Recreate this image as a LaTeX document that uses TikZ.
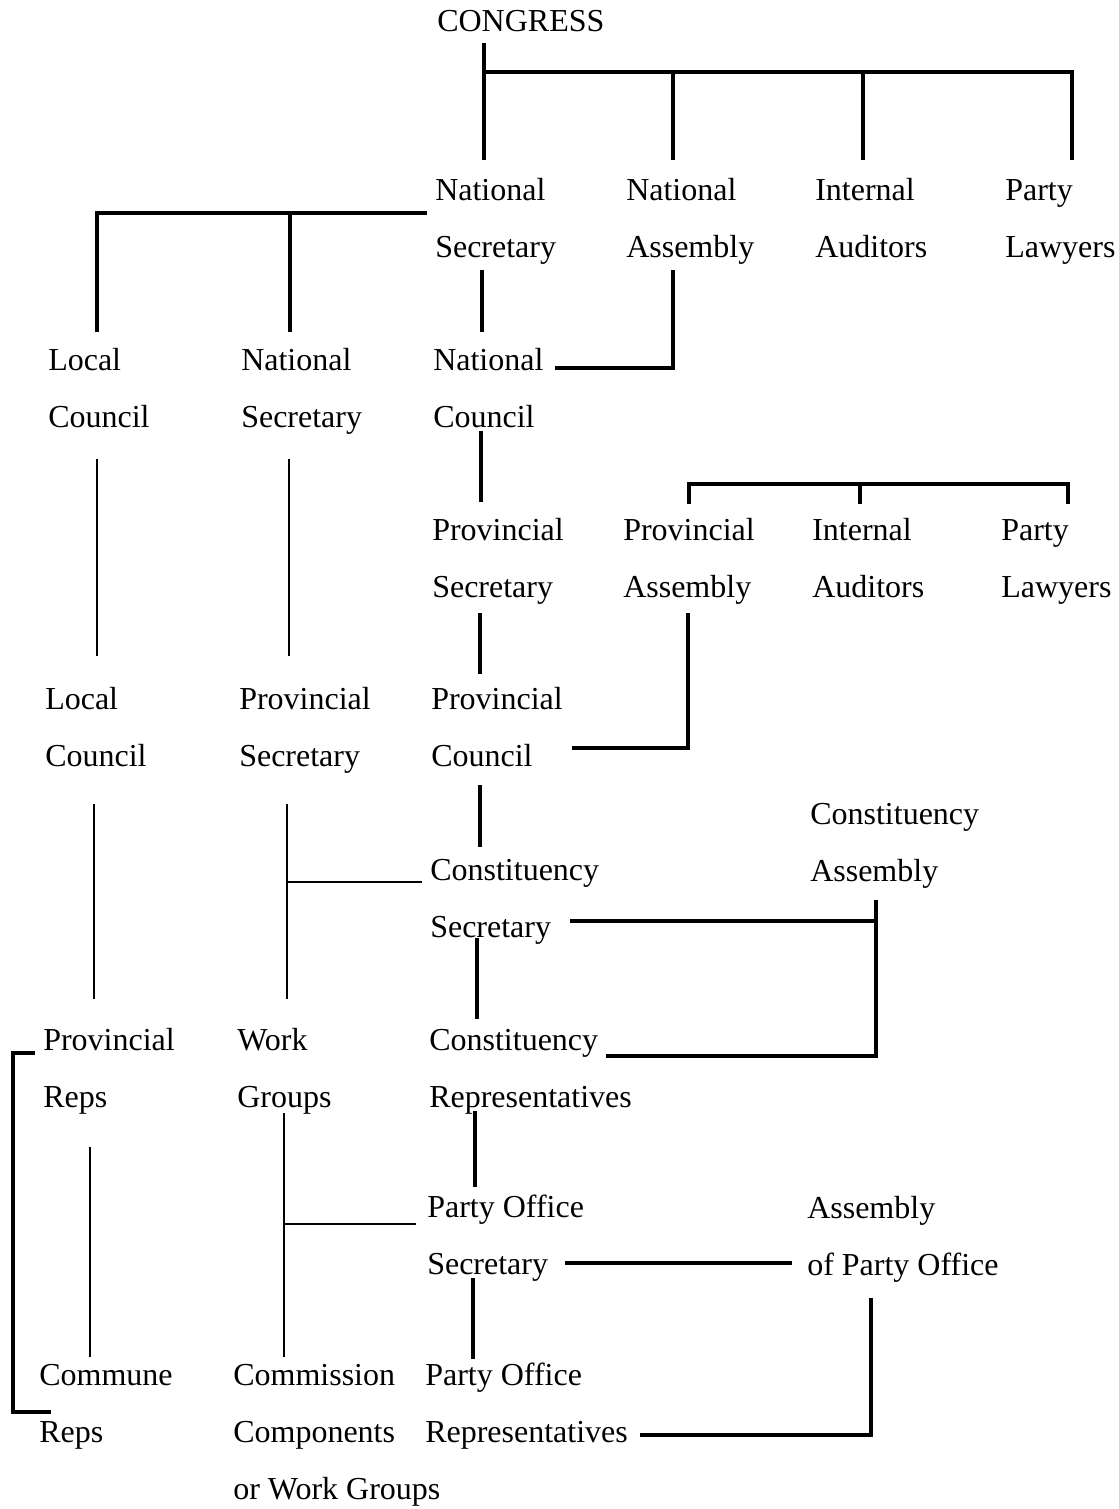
\documentclass[tikz,border=0pt]{standalone}
\usepackage{fontspec}
\setmainfont{Liberation Serif}
\begin{document}
\begin{tikzpicture}[x=0.75pt,y=-0.75pt,
  lbl/.style={font=\fontsize{24}{42.75}\selectfont, align=left, inner sep=0pt, anchor=base west},
  heavy/.style={line width=2.6pt, line cap=rect},
  light/.style={line width=1.8pt, line cap=rect}]
\useasboundingbox[fill=white] (0,0) rectangle (1118,1509);
% ---- nodes (anchored at the baseline of their last line) ----
\node[lbl] (congress) at (437,32) {CONGRESS};
\node[lbl] (nsec) at (435,257) {National\\Secretary};
\node[lbl] (nasm) at (626,257) {National\\Assembly};
\node[lbl] (naud) at (815,257) {Internal\\Auditors};
\node[lbl] (nlaw) at (1005,257) {Party\\Lawyers};
\node[lbl] (lc1) at (48,427) {Local\\Council};
\node[lbl] (nsec2) at (241,427) {National\\Secretary};
\node[lbl] (ncou) at (433,427) {National\\Council};
\node[lbl] (psec) at (432,597) {Provincial\\Secretary};
\node[lbl] (pasm) at (623,597) {Provincial\\Assembly};
\node[lbl] (paud) at (812,597) {Internal\\Auditors};
\node[lbl] (plaw) at (1001,597) {Party\\Lawyers};
\node[lbl] (lc2) at (45,766) {Local\\Council};
\node[lbl] (psec2) at (239,766) {Provincial\\Secretary};
\node[lbl] (pcou) at (431,766) {Provincial\\Council};
\node[lbl] (casm) at (810,881) {Constituency\\Assembly};
\node[lbl] (csec) at (430,937) {Constituency\\Secretary};
\node[lbl] (preps) at (43,1107) {Provincial\\Reps};
\node[lbl] (wg) at (237,1107) {Work\\Groups};
\node[lbl] (creps) at (429,1107) {Constituency\\Representatives};
\node[lbl] (posec) at (427,1274) {Party Office\\Secretary};
\node[lbl] (apo) at (807,1275) {Assembly\\of Party Office};
\node[lbl] (creps2) at (39,1442) {Commune\\Reps};
\node[lbl] (ccwg) at (233,1499) {Commission\\Components\\or Work Groups};
\node[lbl] (poreps) at (425,1442) {Party Office\\Representatives};
% ---- connector end points ----
\coordinate (c0) at (484,45);  \coordinate (c1) at (484,158);
\coordinate (h0) at (484,72);  \coordinate (h3) at (1072,72);
\coordinate (h1) at (673,72);  \coordinate (h1b) at (673,158);
\coordinate (h2) at (863,72);  \coordinate (h2b) at (863,158);
\coordinate (h3b) at (1072,158);
\coordinate (s0) at (425,213); \coordinate (s1) at (97,213); \coordinate (s1b) at (97,330);
\coordinate (s2) at (290,213); \coordinate (s2b) at (290,330);
\coordinate (v1a) at (482,272); \coordinate (v1b) at (482,330);
\coordinate (a1) at (673,272); \coordinate (a2) at (673,368); \coordinate (a3) at (557,368);
\coordinate (v2a) at (481,433); \coordinate (v2b) at (481,500);
\coordinate (p1) at (689,502); \coordinate (p2) at (689,484); \coordinate (p3) at (1068,484); \coordinate (p4) at (1068,502);
\coordinate (p5) at (860,484); \coordinate (p6) at (860,502);
\coordinate (l1a) at (97,460); \coordinate (l1b) at (97,655);
\coordinate (n1a) at (289,460); \coordinate (n1b) at (289,655);
\coordinate (v3a) at (480,615); \coordinate (v3b) at (480,672);
\coordinate (b1) at (688,615); \coordinate (b2) at (688,748); \coordinate (b3) at (574,748);
\coordinate (v4a) at (480,787); \coordinate (v4b) at (480,845);
\coordinate (l2a) at (94,805); \coordinate (l2b) at (94,998);
\coordinate (n2a) at (287,805); \coordinate (n2b) at (287,998);
\coordinate (n2c) at (287,882); \coordinate (n2d) at (421,882);
\coordinate (k1) at (572,921); \coordinate (k2) at (876,921);
\coordinate (k3) at (876,902); \coordinate (k4) at (876,1056); \coordinate (k5) at (608,1056);
\coordinate (v5a) at (477,940); \coordinate (v5b) at (477,1017);
\coordinate (l3a) at (90,1148); \coordinate (l3b) at (90,1356);
\coordinate (w1) at (284,1114); \coordinate (w2) at (284,1356);
\coordinate (w3) at (284,1224); \coordinate (w4) at (415,1224);
\coordinate (v6a) at (475,1113); \coordinate (v6b) at (475,1185);
\coordinate (q1) at (567,1263); \coordinate (q2) at (790,1263);
\coordinate (v7a) at (473,1280); \coordinate (v7b) at (473,1357);
\coordinate (r1) at (871,1300); \coordinate (r2) at (871,1435); \coordinate (r3) at (642,1435);
\coordinate (e1) at (33,1053); \coordinate (e2) at (13,1053); \coordinate (e3) at (13,1412); \coordinate (e4) at (49,1412);
% ---- connectors ----
\draw[heavy] (c0) -- (c1);
\draw[heavy] (h0) -- (h3) -- (h3b);
\draw[heavy] (h1) -- (h1b);
\draw[heavy] (h2) -- (h2b);
\draw[heavy] (s0) -- (s1) -- (s1b);
\draw[heavy] (s2) -- (s2b);
\draw[heavy] (v1a) -- (v1b);
\draw[heavy] (a1) -- (a2) -- (a3);
\draw[heavy] (v2a) -- (v2b);
\draw[heavy] (p1) -- (p2) -- (p3) -- (p4);
\draw[heavy] (p5) -- (p6);
\draw[light] (l1a) -- (l1b);
\draw[light] (n1a) -- (n1b);
\draw[heavy] (v3a) -- (v3b);
\draw[heavy] (b1) -- (b2) -- (b3);
\draw[heavy] (v4a) -- (v4b);
\draw[light] (l2a) -- (l2b);
\draw[light] (n2a) -- (n2b);
\draw[light] (n2c) -- (n2d);
\draw[heavy] (k1) -- (k2);
\draw[heavy] (k3) -- (k4) -- (k5);
\draw[heavy] (v5a) -- (v5b);
\draw[light] (l3a) -- (l3b);
\draw[light] (w1) -- (w2);
\draw[light] (w3) -- (w4);
\draw[heavy] (v6a) -- (v6b);
\draw[heavy] (q1) -- (q2);
\draw[heavy] (v7a) -- (v7b);
\draw[heavy] (r1) -- (r2) -- (r3);
\draw[heavy] (e1) -- (e2) -- (e3) -- (e4);
\end{tikzpicture}
\end{document}
